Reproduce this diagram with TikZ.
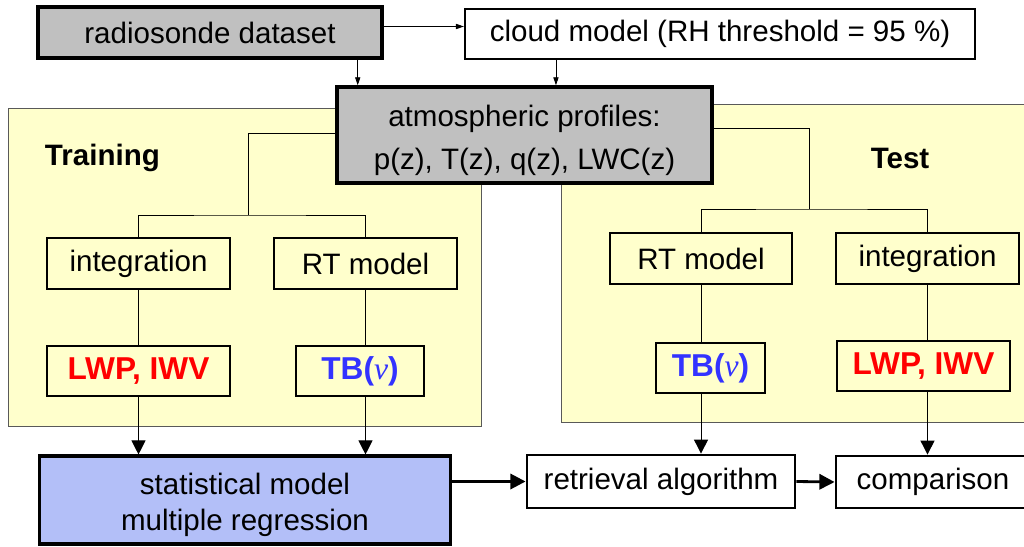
\documentclass[tikz,border=0pt]{standalone}
\usepackage{fontspec}
\setmainfont{Liberation Sans}
\newfontfamily\nufont{Liberation Serif}
\usetikzlibrary{arrows.meta}

\definecolor{boxgray}{HTML}{C0C0C0}
\definecolor{panelyellow}{HTML}{FFFFCC}
\definecolor{statblue}{HTML}{B3BFF8}
\definecolor{tbblue}{HTML}{3333FF}

\tikzset{
  box/.style={draw, line width=1.4pt, inner sep=0pt, minimum height=1.275cm,
    font=\fontsize{21}{25}\selectfont},
  graybox/.style={box, fill=boxgray, line width=2.4pt},
  result/.style={box, minimum height=1.25cm, font=\bfseries\fontsize{22.5}{26}\selectfont},
  panel/.style={draw=gray!70!black, line width=0.6pt, fill=panelyellow},
  link/.style={line width=0.6pt},
  bigarrow/.style={line width=0.7pt, -{Triangle[width=0.35cm,length=0.35cm]}},
  thickarrow/.style={line width=2pt, -{Triangle[width=0.38cm,length=0.38cm]}},
  smallarrow/.style={line width=0.6pt, -{Triangle[width=0.13cm,length=0.2cm]}},
}

\begin{document}
\begin{tikzpicture}[x=0.025cm, y=-0.025cm]

\useasboundingbox (0,0) rectangle (1024,546);
\clip (0,0) rectangle (1024,546);

% The two panels
\draw[panel] (8,108) rectangle (481,426);
\draw[panel] (561,104) rectangle (1035,422);
\node[font=\bfseries\fontsize{21}{25}\selectfont, anchor=west] (trlabel) at (40,158) {Training};
\node[font=\bfseries\fontsize{21}{25}\selectfont] (telabel) at (900,158) {Test};

% Input data
\node[graybox, minimum width=8.6cm] (rs) at (210,32.5) {radiosonde dataset};
\node[box, minimum width=12.75cm, minimum height=1.25cm] (cloud) at (720,34) {cloud model (RH threshold = 95 \%)};
\node[graybox, minimum width=9.375cm, minimum height=2.4cm, align=center] (atm) at (524.5,135)
  {\rule{0pt}{23pt}atmospheric profiles:\\[6pt] p(z), T(z), q(z), LWC(z)};

% Training side
\node[box, minimum width=4.575cm] (trint) at (138.5,263.5) {integration};
\node[box, minimum width=4.575cm] (trrt) at (365.5,263.5) {RT model};
\node[result, minimum width=4.575cm, text=red] (trlwp) at (138.5,371) {LWP, IWV};
\node[result, minimum width=3.2cm, text=tbblue] (trtb) at (360,371) {TB({\nufont\mdseries\itshape ν})};

% Test side
\node[box, minimum width=4.55cm] (tert) at (701,258.5) {RT model};
\node[box, minimum width=4.575cm] (teint) at (927.5,258.5) {integration};
\node[result, minimum width=2.725cm, text=tbblue] (tetb) at (710.5,368) {TB({\nufont\mdseries\itshape ν})};
\node[result, minimum width=4.325cm, text=red] (telwp) at (923.5,366) {LWP, IWV};

% Output
\node[graybox, fill=statblue, line width=2.2pt, minimum width=10.25cm, minimum height=2.2cm, align=center,
  font=\fontsize{21}{26}\selectfont] (stat) at (245,500) {\rule{0pt}{22pt}statistical model\\ multiple regression};
\node[box, line width=2pt, minimum width=6.7cm, minimum height=1.325cm] (ret) at (661,481.5) {retrieval algorithm};
\node[box, line width=2pt, minimum width=4.85cm, minimum height=1.3cm] (comp) at (933,482) {comparison};

% Top arrows
\draw[smallarrow] ([yshift=0.15cm]rs.east) -- ([yshift=0.15cm]rs.east -| cloud.west);
\draw[smallarrow] ([xshift=-0.65cm]rs.south east) -- ([xshift=-0.65cm]rs.south east |- atm.north);
\draw[smallarrow] ([xshift=-4.1cm]cloud.south) -- ([xshift=-4.1cm]cloud.south |- atm.north);

% Training connectors
\coordinate (trsplit) at (248,215);
\draw[link] ([yshift=0.05cm]atm.west) -| (trsplit);
\draw[link] (trint.north) |- (trsplit) -| (trrt.north);
\draw[link] (trint.south) -- (trlwp.north);
\draw[link] (trrt.south) -- (trrt.south |- trtb.north);
\draw[bigarrow] (trlwp.south) -- (trlwp.south |- stat.north);
\draw[bigarrow] (trrt.south |- trtb.south) -- (trrt.south |- stat.north);

% Test connectors
\coordinate (tesplit) at (809,209);
\draw[link] ([yshift=0.175cm]atm.east) -| (tesplit);
\draw[link] (tert.north) |- (tesplit) -| (teint.north);
\draw[link] (tert.south) -- (tert.south |- tetb.north);
\draw[link] (teint.south) -- (teint.south |- telwp.north);
\draw[bigarrow] (tert.south |- tetb.south) -- (tert.south |- ret.north);
\draw[bigarrow] (teint.south |- telwp.south) -- (teint.south |- comp.north);

% Retrieval chain
\draw[thickarrow] (stat.east |- ret.west) -- (ret.west);
\draw[thickarrow] (ret.east) -- (comp.west);

\end{tikzpicture}
\end{document}
